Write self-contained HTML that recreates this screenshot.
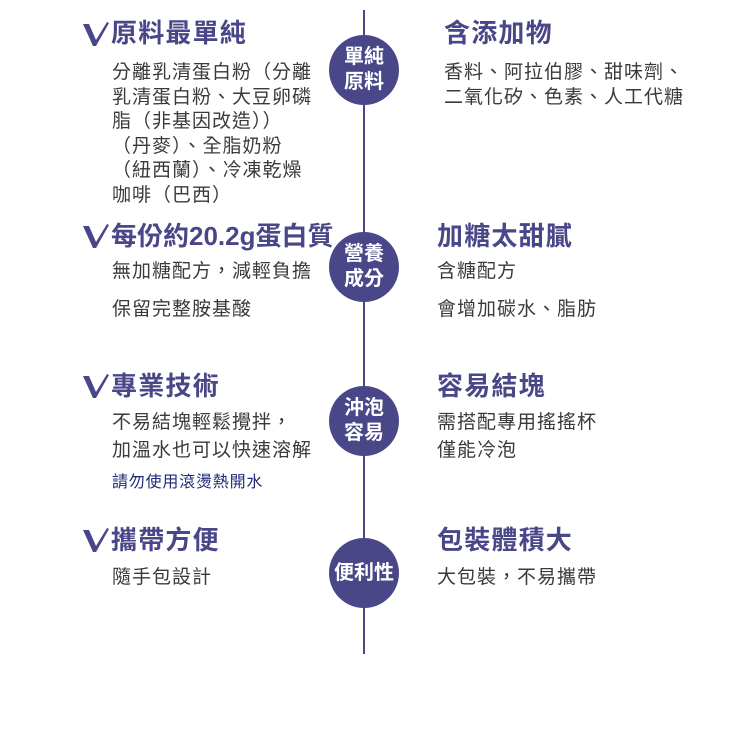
<!DOCTYPE html>
<html><head><meta charset="utf-8"><style>
body{margin:0;width:750px;height:745px;background:#fff;position:relative;overflow:hidden;font-family:"Liberation Sans","Noto Sans CJK TC",sans-serif}
.a{position:absolute;white-space:nowrap}
.h{font-size:26px;font-weight:bold;color:#4a4789;line-height:30px;letter-spacing:1.2px}
.b{font-size:19px;color:#3a3a3a;line-height:24.6px;letter-spacing:1px}
.c{position:absolute;width:70px;height:70px;border-radius:50%;background:#4a4789;color:#fff;font-size:20px;font-weight:bold;display:flex;align-items:center;justify-content:center;text-align:center;line-height:25px;left:329px}
</style></head><body>
<div style="position:absolute;left:363px;top:10px;width:2px;height:644px;background:#4a4789"></div>

<svg class="a" style="left:81px;top:20px" width="30" height="28"><path d="M2 4 L8 4 L15 20 L26 2 L28 3 L15 26 L12 26 Z" fill="#4a4789"/></svg>
<div class="a h" style="left:111px;top:18px">原料最單純</div>
<div class="a b" style="left:112px;top:61px">分離乳清蛋白粉（分離<br>乳清蛋白粉、大豆卵磷<br>脂（非基因改造））<br>（丹麥）、全脂奶粉<br>（紐西蘭）、冷凍乾燥<br>咖啡（巴西）</div>
<div class="a h" style="left:444px;top:18px">含添加物</div>
<div class="a b" style="left:444px;top:61px">香料、阿拉伯膠、甜味劑、<br>二氧化矽、色素、人工代糖</div>
<div class="c" style="top:35px">單純<br>原料</div>

<svg class="a" style="left:81px;top:222px" width="30" height="28"><path d="M2 4 L8 4 L15 20 L26 2 L28 3 L15 26 L12 26 Z" fill="#4a4789"/></svg>
<div class="a h" style="left:111px;top:221px;letter-spacing:0">每份約20.2g蛋白質</div>
<div class="a b" style="left:112px;top:260px">無加糖配方，減輕負擔</div>
<div class="a b" style="left:112px;top:298px">保留完整胺基酸</div>
<div class="a h" style="left:437px;top:221px">加糖太甜膩</div>
<div class="a b" style="left:437px;top:260px">含糖配方</div>
<div class="a b" style="left:437px;top:298px">會增加碳水、脂肪</div>
<div class="c" style="top:232px">營養<br>成分</div>

<svg class="a" style="left:81px;top:372px" width="30" height="28"><path d="M2 4 L8 4 L15 20 L26 2 L28 3 L15 26 L12 26 Z" fill="#4a4789"/></svg>
<div class="a h" style="left:111px;top:371px">專業技術</div>
<div class="a b" style="left:112px;top:411px">不易結塊輕鬆攪拌，</div>
<div class="a b" style="left:112px;top:439px">加溫水也可以快速溶解</div>
<div class="a" style="left:112px;top:473px;font-size:16px;color:#1f2a78;line-height:20px;letter-spacing:0.8px">請勿使用滾燙熱開水</div>
<div class="a h" style="left:437px;top:371px">容易結塊</div>
<div class="a b" style="left:437px;top:411px">需搭配專用搖搖杯</div>
<div class="a b" style="left:437px;top:439px">僅能冷泡</div>
<div class="c" style="top:386px">沖泡<br>容易</div>

<svg class="a" style="left:81px;top:526px" width="30" height="28"><path d="M2 4 L8 4 L15 20 L26 2 L28 3 L15 26 L12 26 Z" fill="#4a4789"/></svg>
<div class="a h" style="left:111px;top:525px">攜帶方便</div>
<div class="a b" style="left:112px;top:566px">隨手包設計</div>
<div class="a h" style="left:437px;top:525px">包裝體積大</div>
<div class="a b" style="left:437px;top:566px">大包裝，不易攜帶</div>
<div class="c" style="top:538px">便利性</div>
</body></html>
